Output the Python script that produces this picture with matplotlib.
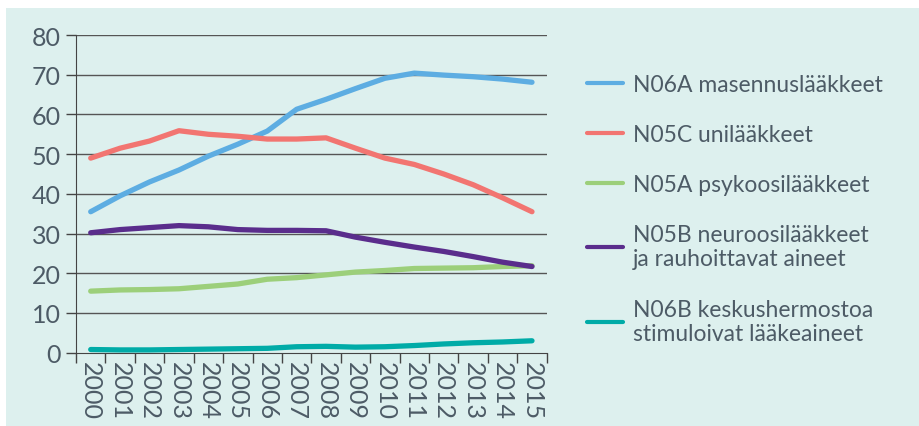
import numpy as np
import matplotlib.pyplot as plt
from matplotlib.patches import Rectangle

plt.rcParams['font.family'] = ['Lato', 'DejaVu Sans']

years = [str(y) for y in range(2000, 2016)]

n06a = [35.5, 39.5, 43.0, 46.0, 49.5, 52.5, 55.8, 61.3, 63.8, 66.5, 69.1, 70.4, 69.9, 69.5, 68.9, 68.1]
n05c = [49.0, 51.5, 53.3, 55.9, 55.0, 54.5, 53.8, 53.8, 54.1, 51.5, 49.0, 47.4, 45.0, 42.3, 39.0, 35.5]
n05a = [15.5, 15.8, 15.9, 16.1, 16.7, 17.3, 18.5, 18.9, 19.6, 20.3, 20.7, 21.2, 21.3, 21.4, 21.7, 21.9]
n05b = [30.2, 31.0, 31.5, 32.0, 31.7, 31.0, 30.8, 30.8, 30.7, 29.1, 27.8, 26.6, 25.5, 24.2, 22.8, 21.7]
n06b = [0.8, 0.7, 0.7, 0.8, 0.9, 1.0, 1.1, 1.5, 1.6, 1.4, 1.5, 1.8, 2.2, 2.5, 2.7, 3.0]

series = [
    ("N06A masennuslääkkeet", n06a, "#5dade2"),
    ("N05C unilääkkeet", n05c, "#f27571"),
    ("N05A psykoosilääkkeet", n05a, "#9ccf7a"),
    ("N05B neuroosilääkkeet\nja rauhoittavat aineet", n05b, "#5a2d8c"),
    ("N06B keskushermostoa\nstimuloivat lääkeaineet", n06b, "#00aba7"),
]

bg = "#ddf0ee"
text_col = "#4d5b66"

fig = plt.figure(figsize=(9.2, 4.27), dpi=100)
# mint panel behind everything, white margin at left and top
fig.add_artist(Rectangle((6 / 920, 0), 913 / 920, 418 / 427,
                         transform=fig.transFigure, facecolor=bg,
                         edgecolor='none', zorder=-10))

ax = fig.add_axes([76 / 920, 1 - 353.7 / 427, (546.7 - 76) / 920, (353.7 - 36) / 427])
ax.set_zorder(1)
ax.set_facecolor('none')

x = np.arange(len(years))
for label, vals, col in series:
    ax.plot(x, vals, color=col, lw=3.8, solid_capstyle='round', label=label, zorder=3)

ax.set_xlim(-0.5, len(years) - 0.5)
ax.set_ylim(0, 80)
ax.set_yticks(range(0, 81, 10))
for v in range(10, 81, 10):
    ax.axhline(v, color='#555555', lw=1.0, zorder=1)
ax.set_xticks(x)
ax.set_xticklabels(years, rotation=-90, fontsize=18, color=text_col)
ax.set_xticks(np.arange(-0.5, len(years)), minor=True)
ax.tick_params(axis='x', which='major', length=0, pad=6)
ax.tick_params(axis='x', which='minor', length=7, color='#444444', width=1)
ax.tick_params(axis='y', length=7, color='#444444', width=1, labelsize=18,
               labelcolor=text_col, pad=4)

for s in ['top', 'right']:
    ax.spines[s].set_visible(False)
ax.spines['left'].set_color('#444444')
ax.spines['bottom'].set_color('#444444')

leg = ax.legend(loc='upper left', bbox_to_anchor=(1.042, 0.943), frameon=False,
                fontsize=16.5, labelcolor=text_col, handlelength=1.55,
                handletextpad=0.45, labelspacing=1.27)
for h in leg.get_lines():
    h.set_linewidth(3)

fig.savefig("out.png", dpi=100, facecolor='white')
